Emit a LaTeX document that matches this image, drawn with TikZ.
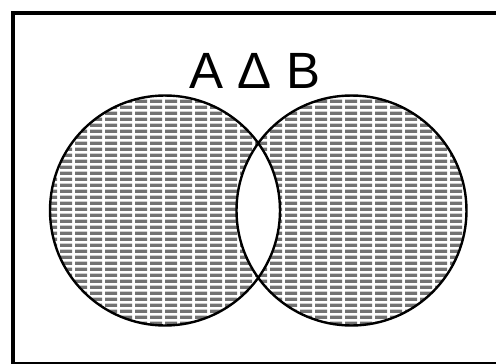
\documentclass[tikz,border=0pt]{standalone}
\usepackage{fontspec}
\setmainfont{Liberation Sans}
\usetikzlibrary{patterns.meta}
% fine grid used to shade the symmetric difference
\tikzdeclarepattern{
  name=setgrid,
  type=uncolored,
  bounding box={(0pt,0pt) and (15pt,5.5pt)},
  tile size={(15pt,5.5pt)},
  code={\fill (0pt,0pt) rectangle (13pt,3.8pt);}
}
\tikzset{
  frame/.style={line width=3.8pt},
  setline/.style={line width=2.4pt},
  symdiff/.style={pattern=setgrid,pattern color=black!55},
  setlabel/.style={font=\fontsize{51}{51}\selectfont,anchor=base,inner sep=0pt},
}
\begin{document}
\begin{tikzpicture}[x=1pt,y=-1pt]
  \useasboundingbox (0,0) rectangle (496,364);
  % universe frame, its right side lies beyond the picture
  \draw[frame] (530,13) -- (13,13) -- (13,363.5) -- (530,363.5);
  \coordinate (A) at (165,210.5);
  \coordinate (B) at (351.5,210.5);
  \fill[symdiff,even odd rule] (A) circle[radius=115pt] (B) circle[radius=115pt];
  \draw[setline] (A) circle[radius=115pt] (B) circle[radius=115pt];
  \node[setlabel] (lbl) at (255,88) {A Δ B};
\end{tikzpicture}
\end{document}
